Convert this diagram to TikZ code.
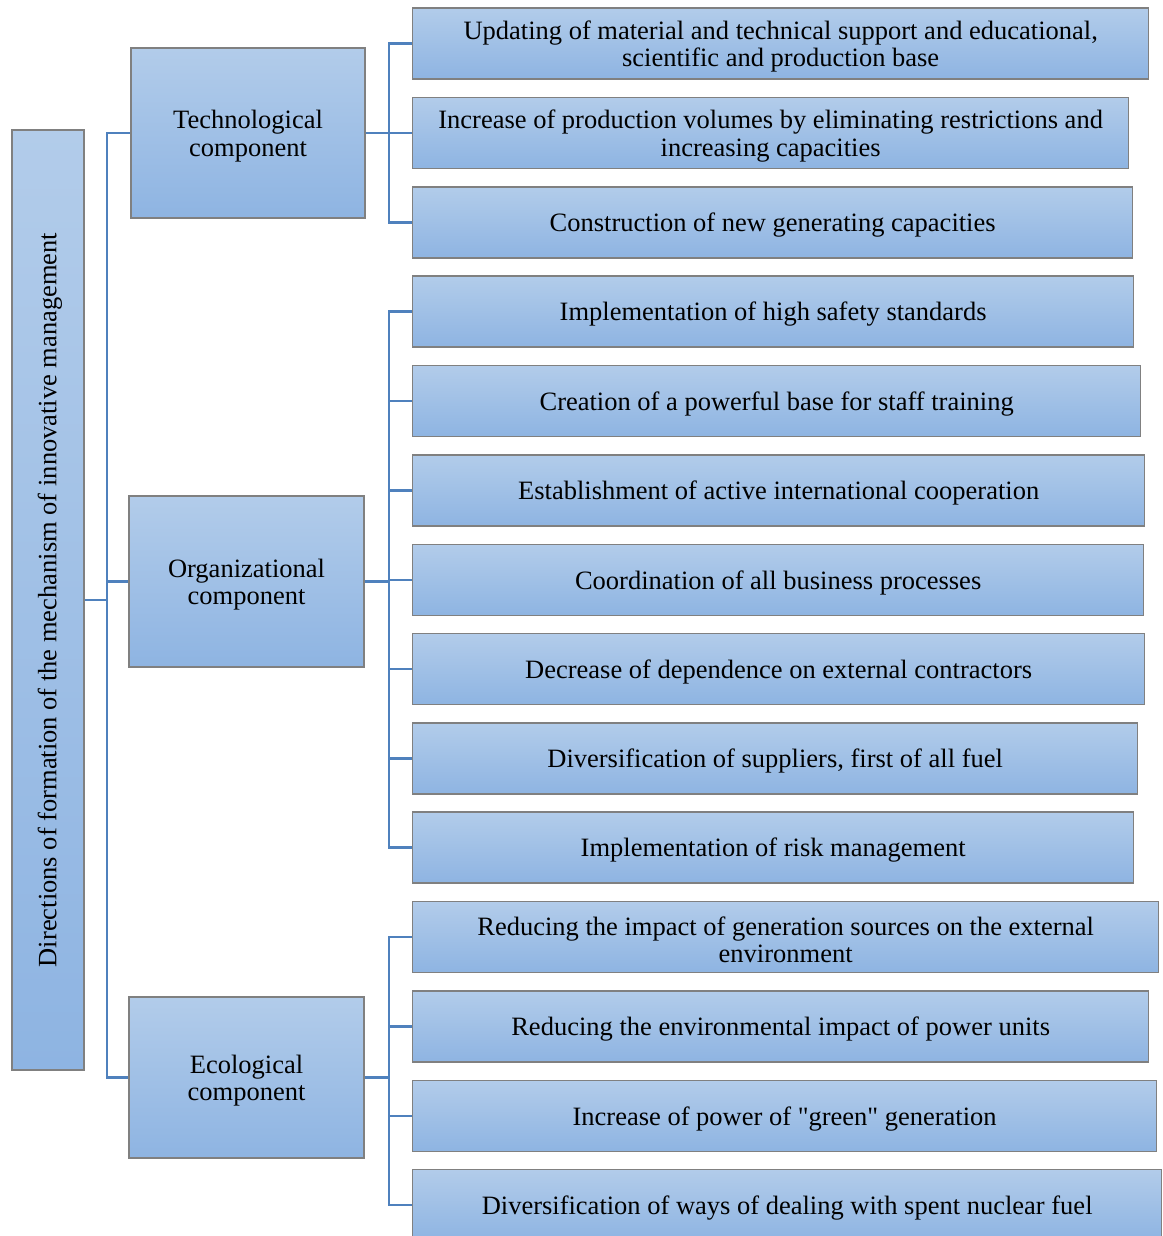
\documentclass[tikz,border=0pt]{standalone}
\usepackage{fontspec}
\setmainfont{Liberation Serif}
\definecolor{boxtop}{RGB}{178,204,234}
\definecolor{boxbot}{RGB}{142,180,226}
\definecolor{boxline}{RGB}{128,128,128}
\definecolor{linkc}{RGB}{79,129,189}
\newcommand{\lift}{\rule{0pt}{24.5pt}}
\begin{document}
\begin{tikzpicture}[x=1pt,y=-1pt,
  box/.style={draw=boxline,line width=1.3pt,top color=boxtop,bottom color=boxbot,
    align=center,inner sep=2pt,font=\fontsize{26.5}{27.5}\selectfont},
  leaf/.style={box,anchor=west,minimum height=71pt},
  link/.style={draw=linkc,line width=2.8pt}]
\clip (0,0) rectangle (1162,1236);
\fill[white] (0,0) rectangle (1162,1236);
% root
\node[draw=boxline,line width=1.3pt,top color=boxtop,bottom color=boxbot,minimum width=72pt,minimum height=940pt] (root) at (48,600) {};
\node[font=\fontsize{26.5}{27.5}\selectfont,rotate=90] (roottext) at (50,600) {Directions of formation of the mechanism of innovative management};
% components
\node[box,minimum width=234pt,minimum height=170pt] (tech) at (248,133) {\lift Technological\\component};
\node[box,minimum width=235pt,minimum height=171pt] (org) at (246.5,581.5) {\lift Organizational\\component};
\node[box,minimum width=235pt,minimum height=161pt] (eco) at (246.5,1077.5) {\lift Ecological\\component};
% leaves
\node[leaf,minimum width=736pt] (t1) at (412,43.5) {\lift Updating of material and technical support and educational,\\scientific and production base};
\node[leaf,minimum width=716pt] (t2) at (412,133) {\lift Increase of production volumes by eliminating restrictions and\\increasing capacities};
\node[leaf,minimum width=720pt] (t3) at (412,222.5) {\lift Construction of new generating capacities};
\node[leaf,minimum width=721pt] (o1) at (412,311.5) {\lift Implementation of high safety standards};
\node[leaf,minimum width=728pt] (o2) at (412,401) {\lift Creation of a powerful base for staff training};
\node[leaf,minimum width=732pt] (o3) at (412,490.5) {\lift Establishment of active international cooperation};
\node[leaf,minimum width=731pt] (o4) at (412,580) {\lift Coordination of all business processes};
\node[leaf,minimum width=732pt] (o5) at (412,669) {\lift Decrease of dependence on external contractors};
\node[leaf,minimum width=725pt] (o6) at (412,758.5) {\lift Diversification of suppliers, first of all fuel};
\node[leaf,minimum width=721pt] (o7) at (412,847.5) {\lift Implementation of risk management};
\node[leaf,minimum width=746pt] (e1) at (412,937) {\lift Reducing the impact of generation sources on the external\\environment};
\node[leaf,minimum width=736pt] (e2) at (412,1026.5) {\lift Reducing the environmental impact of power units};
\node[leaf,minimum width=744pt] (e3) at (412,1116) {\lift Increase of power of \textquotedbl green\textquotedbl{} generation};
\node[leaf,minimum width=749pt] (e4) at (412,1205) {\lift Diversification of ways of dealing with spent nuclear fuel};
% connectors
\coordinate (rj) at (107,600);
\draw[link] (root.east) -- (rj);
\foreach \c in {tech,org,eco}{\draw[link] (rj) |- (\c.west);}
\coordinate (tj) at (389,133);
\draw[link] (tech.east) -- (tj);
\foreach \c in {t1,t2,t3}{\draw[link] (tj) |- (\c.west);}
\coordinate (oj) at (389,581.5);
\draw[link] (org.east) -- (oj);
\foreach \c in {o1,o2,o3,o4,o5,o6,o7}{\draw[link] (oj) |- (\c.west);}
\coordinate (ej) at (389,1077.5);
\draw[link] (eco.east) -- (ej);
\foreach \c in {e1,e2,e3,e4}{\draw[link] (ej) |- (\c.west);}
\end{tikzpicture}
\end{document}
